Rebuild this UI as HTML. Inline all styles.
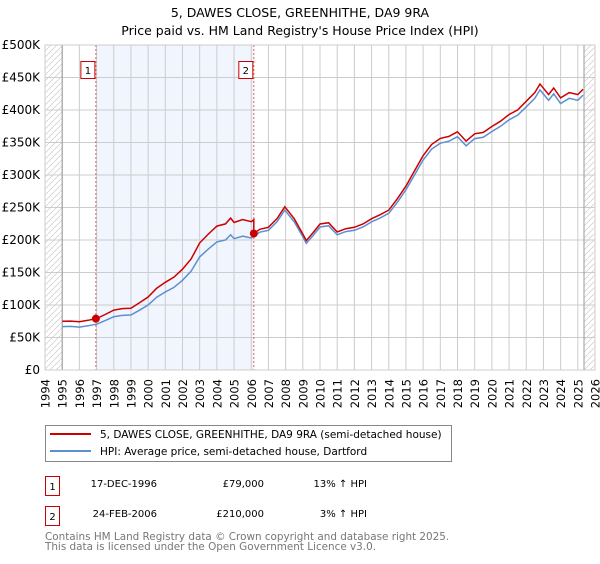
<!DOCTYPE html>
<html><head><meta charset="utf-8"><style>
body{margin:0;background:#fff;font-family:"DejaVu Sans","Liberation Sans",sans-serif}
svg text{font-family:"DejaVu Sans","Liberation Sans",sans-serif}
</style></head><body>
<svg id="c" width="600" height="560" xmlns="http://www.w3.org/2000/svg">
<text x="300" y="17" text-anchor="middle" font-size="12.5">5, DAWES CLOSE, GREENHITHE, DA9 9RA</text>
<text x="300" y="35" text-anchor="middle" font-size="12.5">Price paid vs. HM Land Registry's House Price Index (HPI)</text>
<g id="plot"></g>
<g>
<rect x="45.5" y="425.5" width="406" height="36" fill="#fff" stroke="#888"/>
<line x1="50" y1="434" x2="91" y2="434" stroke="#cc0000" stroke-width="2"/>
<text x="100" y="438" font-size="10.5">5, DAWES CLOSE, GREENHITHE, DA9 9RA (semi-detached house)</text>
<line x1="50" y1="451" x2="91" y2="451" stroke="#5b8fd0" stroke-width="2"/>
<text x="100" y="455" font-size="10.5">HPI: Average price, semi-detached house, Dartford</text>
</g>
<g font-size="10">
<rect x="45.5" y="476.5" width="14" height="19" fill="#fff" stroke="#cc0000"/>
<text x="52.5" y="490" text-anchor="middle">1</text>
<text x="157" y="487" text-anchor="end">17-DEC-1996</text>
<text x="264" y="487" text-anchor="end">£79,000</text>
<text x="367" y="487" text-anchor="end">13% ↑ HPI</text>
<rect x="45.5" y="506.5" width="14" height="19" fill="#fff" stroke="#cc0000"/>
<text x="52.5" y="520" text-anchor="middle">2</text>
<text x="157" y="517" text-anchor="end">24-FEB-2006</text>
<text x="264" y="517" text-anchor="end">£210,000</text>
<text x="367" y="517" text-anchor="end">3% ↑ HPI</text>
</g>
<text x="45" y="540" font-size="10.4" fill="#777">Contains HM Land Registry data © Crown copyright and database right 2025.</text>
<text x="45" y="550" font-size="10.4" fill="#777">This data is licensed under the Open Government Licence v3.0.</text>
</svg>
<script>
const hpiYears=[1995,1995.5,1996,1996.5,1997,1997.5,1998,1998.5,1999,1999.5,2000,2000.5,2001,2001.5,2002,2002.5,2003,2003.5,2004,2004.5,2004.8,2005,2005.5,2006,2006.5,2007,2007.5,2007.95,2008.5,2009,2009.2,2009.6,2010,2010.5,2011,2011.5,2012,2012.5,2013,2013.5,2014,2014.5,2015,2015.5,2016,2016.5,2017,2017.5,2018,2018.5,2019,2019.5,2020,2020.5,2021,2021.5,2022,2022.5,2022.8,2023.3,2023.6,2024,2024.5,2025,2025.3];
const hpiValues=[66.7,67,66,68,70.5,76,82,84,84.6,92,100,112,120,127,138,152,174,186,197,200,208,202,206,203,212,215,228,246,228,205,195,207,220,222,208,213,215,220,228,234,241,258,277,300,323,340,349,352,359,345,356,358,367,375,385,392,405,418,431,415,425,410,418,415,423];
const saleYears=[1996.96,2006.15];
const salePrices=[79,210];
const yTicks=[0,50,100,150,200,250,300,350,400,450,500];
const yTickLabels=["£0","£50K","£100K","£150K","£200K","£250K","£300K","£350K","£400K","£450K","£500K"];
const xTicks=[1994,1995,1996,1997,1998,1999,2000,2001,2002,2003,2004,2005,2006,2007,2008,2009,2010,2011,2012,2013,2014,2015,2016,2017,2018,2019,2020,2021,2022,2023,2024,2025,2026];

const X0=45,X1=595,Y0=370,Y1=45,XMIN=1994,XMAX=2026,YMAX=500,DATA_END=2025.36;
const xs=y=>X0+(y-XMIN)/(XMAX-XMIN)*(X1-X0);
const ys=v=>Y0-v/YMAX*(Y0-Y1);
const NS="http://www.w3.org/2000/svg";
const plot=document.getElementById('plot');
function mk(tag,attrs,parent){const e=document.createElementNS(NS,tag);for(const k in attrs)e.setAttribute(k,attrs[k]);(parent||plot).appendChild(e);return e;}
function hpiAt(t){for(let i=1;i<hpiYears.length;i++){if(t<=hpiYears[i]){const f=(t-hpiYears[i-1])/(hpiYears[i]-hpiYears[i-1]);return hpiValues[i-1]+f*(hpiValues[i]-hpiValues[i-1]);}}return hpiValues[hpiValues.length-1];}

const defs=mk('defs',{});
const pat=mk('pattern',{id:'h',width:6,height:6,patternUnits:'userSpaceOnUse'},defs);
mk('path',{d:'M0,6 L6,0',stroke:'#ccc','stroke-width':0.7},pat);
let r=mk('rect',{x:X0,y:Y1,width:xs(1995)-X0,height:Y0-Y1,fill:'url(#h)'});


r=mk('rect',{x:xs(DATA_END),y:Y1,width:X1-xs(DATA_END),height:Y0-Y1,fill:'url(#h)'});


r=mk('rect',{x:xs(saleYears[0]),y:Y1,width:xs(saleYears[1])-xs(saleYears[0]),height:Y0-Y1,fill:'#eef3fc',opacity:0.8});


yTicks.forEach((v,i)=>{
 const l=mk('line',{x1:X0,x2:X1,y1:ys(v),y2:ys(v),stroke:'#ccc'});
 
 
 const t=mk('text',{x:40,y:ys(v)+4,'text-anchor':'end','font-size':12});
 t.textContent=yTickLabels[i];
 
 
});
xTicks.forEach(y=>{
 const l=mk('line',{x1:xs(y),x2:xs(y),y1:Y1,y2:Y0,stroke:'#ccc'});
 
 
 const t=mk('text',{x:0,y:0,'text-anchor':'end','font-size':11.5,transform:`translate(${xs(y)+4.5},379) rotate(-90)`});
 t.textContent=y;
 
 
});
let a=mk('line',{x1:xs(1995),x2:xs(1995),y1:Y1,y2:Y0,stroke:'#999'});


a=mk('line',{x1:xs(DATA_END),x2:xs(DATA_END),y1:Y1,y2:Y0,stroke:'#999'});


saleYears.forEach((sy,i)=>{
 const l=mk('line',{x1:xs(sy),x2:xs(sy),y1:Y1,y2:Y0,stroke:'#e06060','stroke-dasharray':'2,2'});
 
 
 const b=mk('rect',{x:xs(sy)-15,y:61.5,width:14,height:17,fill:'#fff',stroke:'#cc0000'});
 
 
 const t=mk('text',{x:xs(sy)-8,y:74,'text-anchor':'middle','font-size':10});
 t.textContent=String(i+1);
 
 
});
let d=hpiYears.map((y,i)=>(i?'L':'M')+xs(y).toFixed(1)+','+ys(hpiValues[i]).toFixed(1)).join(' ');
let p=mk('path',{d:d,fill:'none',stroke:'#5b8fd0','stroke-width':1.5});


const f1=salePrices[0]/hpiAt(saleYears[0]),f2=salePrices[1]/hpiAt(saleYears[1]);
let pts=[];
hpiYears.forEach((y,i)=>{
 if(y<saleYears[1])pts.push([y,hpiValues[i]*f1]);
});
pts.push([saleYears[1],hpiAt(saleYears[1])*f1]);
pts.push([saleYears[1],salePrices[1]]);
hpiYears.forEach((y,i)=>{if(y>saleYears[1])pts.push([y,hpiValues[i]*f2]);});
d=pts.map((q,i)=>(i?'L':'M')+xs(q[0]).toFixed(1)+','+ys(q[1]).toFixed(1)).join(' ');
p=mk('path',{d:d,fill:'none',stroke:'#cc0000','stroke-width':1.5});


saleYears.forEach((sy,i)=>{
 const c=mk('circle',{cx:xs(sy),cy:ys(salePrices[i]),r:4,fill:'#cc0000'});
 
 
});
let fr=mk('rect',{x:X0,y:Y1,width:X1-X0,height:Y0-Y1,fill:'none',stroke:'#ccc'});


</script>
</body></html>
